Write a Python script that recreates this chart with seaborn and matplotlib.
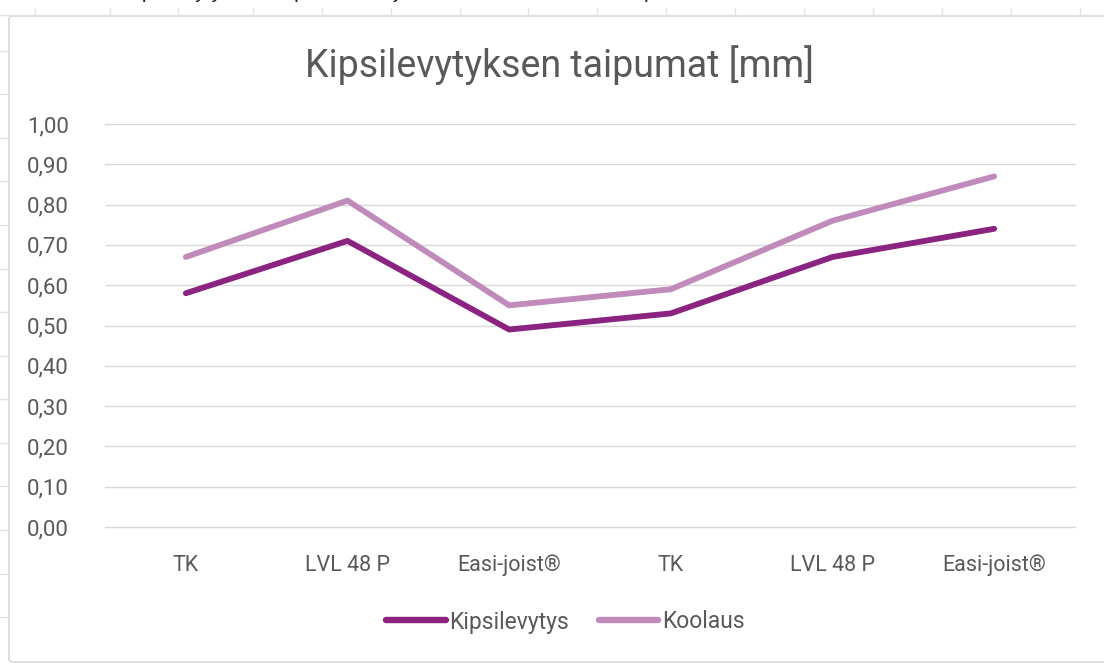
import pandas as pd
import matplotlib.pyplot as plt
import seaborn as sns
from matplotlib.patches import FancyBboxPatch
from matplotlib.lines import Line2D

# Data
categories = ["TK", "LVL 48 P", "Easi-joist®", "TK", "LVL 48 P", "Easi-joist®"]
kipsilevytys = [0.58, 0.71, 0.49, 0.53, 0.67, 0.74]
koolaus = [0.67, 0.81, 0.55, 0.59, 0.76, 0.87]
y_ticks = [0.0, 0.1, 0.2, 0.3, 0.4, 0.5, 0.6, 0.7, 0.8, 0.9, 1.0]

df = pd.DataFrame({
    "pos": list(range(len(categories))) * 2,
    "value": kipsilevytys + koolaus,
    "series": ["Kipsilevytys"] * len(categories) + ["Koolaus"] * len(categories),
})

sns.set_style("white")
plt.rcParams["font.family"] = ["Roboto", "DejaVu Sans"]

fig = plt.figure(figsize=(11.04, 6.64), dpi=100)

# -------------------------------
# Spreadsheet background bits
# -------------------------------
fig.text(0.0, 1.012, "Taulukko 14. Kipsilevytyksen taipuma-arvoja verrataan koolauksen taipuma-arvoihin.",
         fontsize=15, color="#222222", ha="left", va="center", family=["Liberation Sans", "DejaVu Sans"])
fig.add_artist(Line2D([0, 1], [1 - 15 / 664] * 2, color="#E3E3E3", lw=1))
for px in [35, 110, 178, 253, 322, 391, 460, 528, 597, 666, 735, 804, 873, 942, 1011, 1080]:
    fig.add_artist(Line2D([px / 1104] * 2, [1 - 8 / 664, 1 - 15 / 664], color="#E3E3E3", lw=1))
for py in [51, 94, 138, 181, 225, 269, 312, 356, 399, 443, 486, 530, 574, 617]:
    fig.add_artist(Line2D([0, 8 / 1104], [1 - py / 664] * 2, color="#E3E3E3", lw=1))

# chart area
fig.add_artist(FancyBboxPatch((9 / 1104, 2 / 664), 1100 / 1104, 646 / 664,
                              boxstyle="round,pad=0,rounding_size=0.004",
                              transform=fig.transFigure, facecolor="white",
                              edgecolor="#D9D9D9", lw=1.2, zorder=0))

# -------------------------------
# Line chart
# -------------------------------
ax = fig.add_axes([105 / 1104, 1 - 527 / 664, 970 / 1104, 403 / 664])
ax.set_facecolor("none")
sns.lineplot(data=df, x="pos", y="value", hue="series",
             palette={"Kipsilevytys": "#8B2380", "Koolaus": "#C08BBA"},
             linewidth=4.2, ax=ax, legend=False, solid_capstyle="round")

ax.set_xlim(-0.5, len(categories) - 0.5)
ax.set_ylim(0, 1.0)
ax.set_yticks(y_ticks)
ax.set_yticklabels([f"{v:.2f}".replace(".", ",") for v in y_ticks],
                   fontsize=16, color="#595959")
ax.set_xticks(range(len(categories)))
ax.set_xticklabels(categories, fontsize=15.5, color="#595959")
ax.tick_params(axis="y", length=0, pad=26)
ax.tick_params(axis="x", length=0, pad=20)
ax.grid(axis="y", color="#D9D9D9", lw=1)
for gl in ax.get_ygridlines():
    gl.set_clip_on(False)
ax.set_axisbelow(True)
for s in ax.spines.values():
    s.set_visible(False)
ax.set_xlabel("")
ax.set_ylabel("")

fig.text(0.507, 1 - 65 / 664, "Kipsilevytyksen taipumat [mm]", fontsize=27,
         color="#595959", ha="center", va="center")

handles = [Line2D([0], [0], color="#8B2380", lw=4.6, solid_capstyle="round"),
           Line2D([0], [0], color="#C08BBA", lw=4.6, solid_capstyle="round")]
fig.legend(handles, ["Kipsilevytys", "Koolaus"], loc="center",
           bbox_to_anchor=(0.512, 1 - 622 / 664), ncol=2, frameon=False,
           fontsize=16.5, labelcolor="#595959", handlelength=2.6,
           handletextpad=0.15, columnspacing=1.3)

plt.savefig("out.png", dpi=100)
